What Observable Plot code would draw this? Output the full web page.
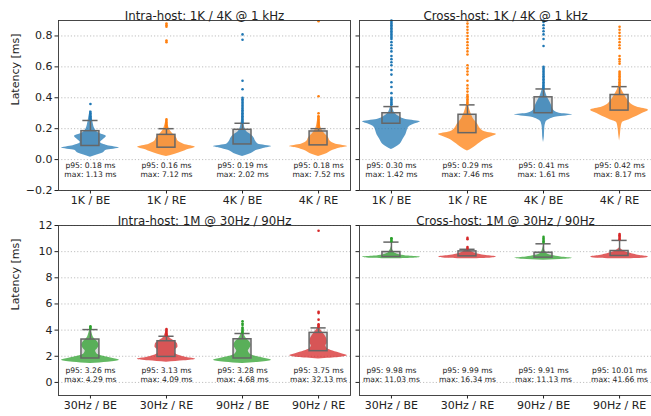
<!DOCTYPE html>
<html><head><meta charset="utf-8">
<script src="https://cdn.jsdelivr.net/npm/d3@7"></script>
<script src="https://cdn.jsdelivr.net/npm/@observablehq/plot@0.6"></script>
<style>
body{margin:0;background:#fff;}
#fig{position:relative;width:651px;height:416px;overflow:hidden;font-family:"DejaVu Sans";}
#fig > .p{position:absolute;}
</style></head><body><div id="fig"></div>
<script>
// ---------- categories / tick labels ----------
const kCats = ["1K / BE", "1K / RE", "4K / BE", "4K / RE"];
const mCats = ["30Hz / BE", "30Hz / RE", "90Hz / BE", "90Hz / RE"];
const kColors = ["#1f77b4", "#ff7f0e", "#1f77b4", "#ff7f0e"];
const mColors = ["#2ca02c", "#d62728", "#2ca02c", "#d62728"];
const kTicks = [-0.2, 0, 0.2, 0.4, 0.6, 0.8];
const mTicks = [0, 2, 4, 6, 8, 10, 12];
const kDomain = [-0.2, 0.9];
const mDomain = [-1, 12];

// ---------- Intra-host 1K/4K ----------
const intraKp95 = [0.18, 0.16, 0.19, 0.18];
const intraKmax = [1.13, 7.12, 2.02, 7.52];
const intraKq1 = [0.088, 0.077, 0.098, 0.092];
const intraKq3 = [0.184, 0.160, 0.193, 0.182];
const intraKwhisk = [0.253, 0.200, 0.235, 0.200];
const intraKviolins = [
  [[0.015,0],[0.025,0.15],[0.045,0.45],[0.06,0.55],[0.075,1.0],[0.09,0.6],[0.11,0.35],[0.13,0.45],[0.15,0.55],[0.17,0.3],[0.2,0.15],[0.25,0.08],[0.3,0.03],[0.32,0]],
  [[0.02,0],[0.035,0.3],[0.05,0.55],[0.065,0.75],[0.08,1.0],[0.1,0.6],[0.12,0.4],[0.14,0.35],[0.16,0.25],[0.19,0.12],[0.22,0.06],[0.25,0.02],[0.26,0]],
  [[0.02,0],[0.04,0.3],[0.06,0.5],[0.075,0.8],[0.085,1.0],[0.1,0.55],[0.12,0.45],[0.14,0.4],[0.16,0.3],[0.18,0.15],[0.22,0.06],[0.3,0.02],[0.35,0]],
  [[0.02,0],[0.04,0.3],[0.06,0.5],[0.075,0.75],[0.085,1.0],[0.1,0.6],[0.12,0.4],[0.14,0.35],[0.17,0.2],[0.2,0.1],[0.25,0.04],[0.3,0]]
];
const intraKout = [
  [0.26,0.27,0.28,0.29,0.30,0.31,0.36],
  [0.21,0.22,0.23,0.24,0.25,0.26,0.76,0.77,0.86,0.87,0.88],
  [0.24,0.25,0.26,0.27,0.28,0.29,0.30,0.31,0.32,0.33,0.34,0.35,0.36,0.37,0.38,0.39,0.40,0.455,0.51,0.775,0.81],
  [0.21,0.22,0.23,0.24,0.25,0.26,0.27,0.28,0.30,0.41,0.895]
];

// ---------- Cross-host 1K/4K ----------
const crossKp95 = [0.30, 0.29, 0.41, 0.42];
const crossKmax = [1.42, 7.46, 1.61, 8.17];
const crossKq1 = [0.232, 0.171, 0.300, 0.317];
const crossKq3 = [0.300, 0.290, 0.403, 0.418];
const crossKwhisk = [0.343, 0.354, 0.457, 0.472];
const crossKviolins = [
  [[0.065,0],[0.08,0.15],[0.1,0.3],[0.13,0.4],[0.16,0.5],[0.19,0.55],[0.21,0.6],[0.23,0.8],[0.245,1.0],[0.26,0.5],[0.28,0.25],[0.3,0.12],[0.33,0.05],[0.36,0]],
  [[0.055,0],[0.07,0.15],[0.09,0.3],[0.11,0.45],[0.13,0.6],[0.15,0.85],[0.163,1.0],[0.18,0.6],[0.2,0.45],[0.23,0.35],[0.26,0.22],[0.3,0.12],[0.34,0.05],[0.38,0]],
  [[0.11,0],[0.15,0.03],[0.2,0.04],[0.24,0.08],[0.26,0.2],[0.275,0.45],[0.29,1.0],[0.3,0.55],[0.32,0.35],[0.35,0.28],[0.38,0.2],[0.41,0.12],[0.45,0.05],[0.5,0]],
  [[0.12,0],[0.16,0.03],[0.2,0.05],[0.24,0.1],[0.26,0.35],[0.28,0.6],[0.3,0.8],[0.32,1.0],[0.34,0.6],[0.36,0.4],[0.38,0.3],[0.41,0.2],[0.45,0.08],[0.5,0]]
];
const crossKout = [
  [0.355,0.36,0.37,0.38,0.39,0.40,0.43,0.47,0.50,0.55,0.58,0.61,0.63,0.65,0.67,0.70,0.72,0.74,0.76,0.78,0.79,0.80,0.81,0.82,0.83,0.84,0.85,0.86,0.87,0.88,0.89,0.90],
  [0.36,0.37,0.38,0.39,0.40,0.41,0.42,0.44,0.46,0.48,0.51,0.55,0.57,0.59,0.61,0.68,0.70,0.72,0.74,0.76,0.78,0.80,0.82,0.84,0.86,0.88,0.90],
  [0.46,0.47,0.48,0.49,0.50,0.51,0.52,0.53,0.54,0.55,0.56,0.57,0.58,0.59,0.60,0.735,0.78,0.81,0.83,0.85,0.87,0.89,0.90],
  [0.48,0.49,0.50,0.51,0.52,0.53,0.54,0.55,0.56,0.57,0.62,0.635,0.65,0.67,0.72,0.74,0.76,0.78,0.80,0.82,0.84,0.86]
];

// ---------- Intra-host 1M ----------
const intraMp95 = [3.26, 3.13, 3.28, 3.75];
const intraMmax = [4.29, 4.09, 4.68, 32.13];
const intraMq1 = [1.83, 1.95, 1.83, 2.39];
const intraMq3 = [3.28, 3.15, 3.30, 3.79];
const intraMwhisk = [4.04, 3.53, 3.74, 4.17];
const intraMviolins = [
  [[1.45,0],[1.55,0.6],[1.7,1.0],[1.85,0.75],[2.0,0.45],[2.2,0.22],[2.4,0.18],[2.6,0.25],[2.85,0.3],[3.1,0.25],[3.4,0.12],[3.8,0.05],[4.3,0]],
  [[1.55,0],[1.65,0.6],[1.78,1.0],[1.9,0.7],[2.05,0.45],[2.25,0.3],[2.45,0.3],[2.7,0.4],[2.95,0.38],[3.2,0.25],[3.4,0.12],[3.7,0.05],[4.0,0]],
  [[1.45,0],[1.55,0.6],[1.7,1.0],[1.85,0.75],[2.0,0.45],[2.2,0.25],[2.4,0.2],[2.6,0.25],[2.85,0.3],[3.1,0.25],[3.4,0.12],[3.7,0.05],[4.0,0]],
  [[1.8,0],[1.9,0.7],[2.05,1.0],[2.2,0.8],[2.4,0.5],[2.6,0.3],[2.8,0.25],[3.0,0.3],[3.2,0.3],[3.5,0.25],[3.8,0.15],[4.1,0.05],[4.4,0]]
];
const intraMout = [
  [4.1,4.2,4.29],
  [3.6,3.7,3.8,3.9,4.0,4.09],
  [3.8,3.9,4.0,4.1,4.2,4.4,4.5,4.68],
  [4.25,4.35,4.45,4.8,5.3,5.4,11.6]
];

// ---------- Cross-host 1M ----------
const crossMp95 = [9.98, 9.99, 9.91, 10.01];
const crossMmax = [11.03, 16.34, 11.13, 41.66];
const crossMq1 = [9.59, 9.64, 9.54, 9.67];
const crossMq3 = [9.97, 10.02, 9.92, 10.05];
const crossMwhisk = [10.73, 10.18, 10.6, 10.86];
const crossMviolins = [
  [[9.45,0],[9.5,0.7],[9.58,1.0],[9.66,0.6],[9.75,0.3],[9.85,0.15],[10.0,0.08],[10.2,0.03],[10.4,0]],
  [[9.45,0],[9.5,0.7],[9.6,1.0],[9.7,0.65],[9.8,0.4],[9.9,0.25],[10.0,0.15],[10.1,0.08],[10.2,0]],
  [[9.35,0],[9.42,0.7],[9.5,1.0],[9.6,0.6],[9.7,0.3],[9.8,0.15],[9.95,0.08],[10.2,0.03],[10.5,0]],
  [[9.45,0],[9.5,0.8],[9.6,1.0],[9.7,0.7],[9.8,0.5],[9.9,0.35],[10.0,0.2],[10.15,0.08],[10.3,0]]
];
const crossMout = [
  [10.8,10.9,11.0,11.03],
  [10.25,10.35,10.95,11.05],
  [10.7,10.8,10.9,11.0,11.13],
  [10.95,11.05,11.15,11.25,11.35]
];

// ---------- drawing ----------
const HALF = 0.38;   // max violin half-width (category units)
const BOX = 0.118;   // box half-width
const CAP = 0.1;     // whisker cap half-width
const FONT = "DejaVu Sans";

function panel(o) {
  const idx = [0, 1, 2, 3];
  const marks = [
    Plot.gridY({ticks: o.ticks, stroke: "#b0b0b0", strokeOpacity: 1, strokeWidth: 0.8, strokeDasharray: "1.2,2"}),
    Plot.axisY({ticks: o.ticks, tickSize: 3.5, tickPadding: 2.5, label: null, fontSize: 11,
      tickFormat: o.showY ? o.fmt : () => ""}),
    Plot.axisX({ticks: idx, tickSize: 3.5, tickPadding: 2.5, label: null, fontSize: 11,
      tickFormat: i => o.cats[i]}),
    Plot.rectY(idx, {x1: i => i - BOX, x2: i => i + BOX, y1: i => o.q1[i], y2: i => o.q3[i], fill: "#d9d9d9"})
  ];
  idx.forEach(i => {
    marks.push(Plot.areaX(o.violins[i], {y: d => d[0], x1: d => i - d[1] * HALF, x2: d => i + d[1] * HALF,
      fill: o.colors[i], fillOpacity: 0.74, curve: "monotone-y"}));
  });
  marks.push(
    Plot.rectY(idx, {x1: i => i - BOX, x2: i => i + BOX, y1: i => o.q1[i], y2: i => o.q3[i], fill: "none", stroke: "#666", strokeWidth: 1.5}),
    Plot.ruleX(idx, {x: i => i, y1: i => o.q3[i], y2: i => o.whisk[i], stroke: "#666", strokeWidth: 1.5}),
    Plot.ruleY(idx, {y: i => o.whisk[i], x1: i => i - CAP, x2: i => i + CAP, stroke: "#666", strokeWidth: 1.5})
  );
  idx.forEach(i => {
    marks.push(Plot.dot(o.out[i], {x: () => i, y: v => v, r: 1.3, fill: o.colors[i], stroke: "none"}));
  });
  marks.push(
    Plot.text(idx, {x: i => i, frameAnchor: "bottom", dy: -22.3, text: i => `p95: ${o.p95[i].toFixed(2)} ms`, fontSize: 7.6, fill: "#222"}),
    Plot.text(idx, {x: i => i, frameAnchor: "bottom", dy: -13.3, text: i => `max: ${o.max[i].toFixed(2)} ms`, fontSize: 7.6, fill: "#222"}),
    Plot.frame({stroke: "#333", strokeWidth: 0.9}),
    Plot.text([o.title], {frameAnchor: "top", dy: -9, fontSize: 11.8, fill: "#222"})
  );
  if (o.showY) marks.push(Plot.text(["Latency [ms]"], {frameAnchor: "left", dx: -43, rotate: -90, fontSize: 11, fill: "#222"}));

  const svg = Plot.plot({
    width: o.width, height: o.height,
    marginLeft: o.ml, marginRight: o.mr, marginTop: 20, marginBottom: o.mb,
    style: {fontFamily: FONT, fontSize: "11px", color: "#222", background: "transparent", overflow: "visible"},
    x: {domain: [-0.42, 3.42], axis: null},
    y: {domain: o.domain, axis: null},
    marks
  });
  svg.classList.add("p");
  svg.style.left = o.left + "px";
  svg.style.top = o.top + "px";
  document.getElementById("fig").appendChild(svg);
}

const fmtK = d3.format(".1f");
const fmtM = d3.format("d");

panel({title: "Intra-host: 1K / 4K @ 1 kHz", cats: kCats, colors: kColors, ticks: kTicks, domain: kDomain, fmt: fmtK, showY: true,
  q1: intraKq1, q3: intraKq3, whisk: intraKwhisk, violins: intraKviolins, out: intraKout, p95: intraKp95, max: intraKmax,
  left: 0, top: 0, width: 355, height: 210, ml: 58, mr: 5, mb: 20});
panel({title: "Cross-host: 1K / 4K @ 1 kHz", cats: kCats, colors: kColors, ticks: kTicks, domain: kDomain, fmt: fmtK, showY: false,
  q1: crossKq1, q3: crossKq3, whisk: crossKwhisk, violins: crossKviolins, out: crossKout, p95: crossKp95, max: crossKmax,
  left: 355, top: 0, width: 296, height: 210, ml: 4, mr: 0, mb: 20});
panel({title: "Intra-host: 1M @ 30Hz / 90Hz", cats: mCats, colors: mColors, ticks: mTicks, domain: mDomain, fmt: fmtM, showY: true,
  q1: intraMq1, q3: intraMq3, whisk: intraMwhisk, violins: intraMviolins, out: intraMout, p95: intraMp95, max: intraMmax,
  left: 0, top: 205, width: 355, height: 211, ml: 58, mr: 5, mb: 21});
panel({title: "Cross-host: 1M @ 30Hz / 90Hz", cats: mCats, colors: mColors, ticks: mTicks, domain: mDomain, fmt: fmtM, showY: false,
  q1: crossMq1, q3: crossMq3, whisk: crossMwhisk, violins: crossMviolins, out: crossMout, p95: crossMp95, max: crossMmax,
  left: 355, top: 205, width: 296, height: 211, ml: 4, mr: 0, mb: 21});
</script>
</body></html>
